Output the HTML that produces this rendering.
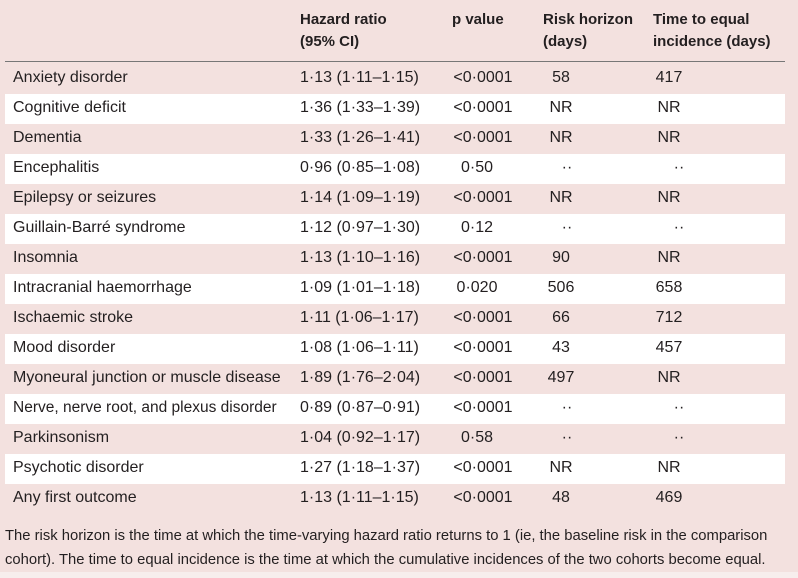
<!DOCTYPE html>
<html><head><meta charset="utf-8"><style>
body{margin:0;width:798px;height:578px;background:#f3e1df;font-family:"Liberation Sans",sans-serif;color:#231f20;position:relative;overflow:hidden}
.h{position:absolute;font-weight:bold;font-size:15px;line-height:22px}
.line{position:absolute;left:5px;width:780px;top:61px;height:1px;background:#777}
.row{position:absolute;left:5px;width:780px;height:30px;font-size:16px}
.row.w{background:#fff}
.row span{position:absolute;top:5px;white-space:nowrap}
.c{transform:translateX(-50%)}
.foot{position:absolute;left:5px;top:524px;font-size:14.8px;line-height:24px;width:792px;white-space:nowrap}
.bot{position:absolute;left:0;top:572px;width:798px;height:6px;background:#f7eeed}
</style></head><body>
<div class="h" style="left:300px;top:9px">Hazard ratio<br>(95% CI)</div>
<div class="h" style="left:452px;top:9px">p value</div>
<div class="h" style="left:543px;top:9px">Risk horizon<br>(days)</div>
<div class="h" style="left:653px;top:9px">Time to equal<br>incidence (days)</div>
<div class="line"></div>
<div class="row" style="top:64px"><span style="left:8px">Anxiety disorder</span><span style="left:295px">1·13 (1·11–1·15)</span><span class="c" style="left:478px">&lt;0·0001</span><span class="c" style="left:556px">58</span><span class="c" style="left:664px">417</span></div>
<div class="row w" style="top:94px"><span style="left:8px">Cognitive deficit</span><span style="left:295px">1·36 (1·33–1·39)</span><span class="c" style="left:478px">&lt;0·0001</span><span class="c" style="left:556px">NR</span><span class="c" style="left:664px">NR</span></div>
<div class="row" style="top:124px"><span style="left:8px">Dementia</span><span style="left:295px">1·33 (1·26–1·41)</span><span class="c" style="left:478px">&lt;0·0001</span><span class="c" style="left:556px">NR</span><span class="c" style="left:664px">NR</span></div>
<div class="row w" style="top:154px"><span style="left:8px">Encephalitis</span><span style="left:295px">0·96 (0·85–1·08)</span><span class="c" style="left:472px">0·50</span><span class="c" style="left:562px">··</span><span class="c" style="left:674px">··</span></div>
<div class="row" style="top:184px"><span style="left:8px">Epilepsy or seizures</span><span style="left:295px">1·14 (1·09–1·19)</span><span class="c" style="left:478px">&lt;0·0001</span><span class="c" style="left:556px">NR</span><span class="c" style="left:664px">NR</span></div>
<div class="row w" style="top:214px"><span style="left:8px">Guillain-Barré syndrome</span><span style="left:295px">1·12 (0·97–1·30)</span><span class="c" style="left:472px">0·12</span><span class="c" style="left:562px">··</span><span class="c" style="left:674px">··</span></div>
<div class="row" style="top:244px"><span style="left:8px">Insomnia</span><span style="left:295px">1·13 (1·10–1·16)</span><span class="c" style="left:478px">&lt;0·0001</span><span class="c" style="left:556px">90</span><span class="c" style="left:664px">NR</span></div>
<div class="row w" style="top:274px"><span style="left:8px">Intracranial haemorrhage</span><span style="left:295px">1·09 (1·01–1·18)</span><span class="c" style="left:472px">0·020</span><span class="c" style="left:556px">506</span><span class="c" style="left:664px">658</span></div>
<div class="row" style="top:304px"><span style="left:8px">Ischaemic stroke</span><span style="left:295px">1·11 (1·06–1·17)</span><span class="c" style="left:478px">&lt;0·0001</span><span class="c" style="left:556px">66</span><span class="c" style="left:664px">712</span></div>
<div class="row w" style="top:334px"><span style="left:8px">Mood disorder</span><span style="left:295px">1·08 (1·06–1·11)</span><span class="c" style="left:478px">&lt;0·0001</span><span class="c" style="left:556px">43</span><span class="c" style="left:664px">457</span></div>
<div class="row" style="top:364px"><span style="left:8px">Myoneural junction or muscle disease</span><span style="left:295px">1·89 (1·76–2·04)</span><span class="c" style="left:478px">&lt;0·0001</span><span class="c" style="left:556px">497</span><span class="c" style="left:664px">NR</span></div>
<div class="row w" style="top:394px"><span style="left:8px;font-size:15.5px">Nerve, nerve root, and plexus disorder</span><span style="left:295px">0·89 (0·87–0·91)</span><span class="c" style="left:478px">&lt;0·0001</span><span class="c" style="left:562px">··</span><span class="c" style="left:674px">··</span></div>
<div class="row" style="top:424px"><span style="left:8px">Parkinsonism</span><span style="left:295px">1·04 (0·92–1·17)</span><span class="c" style="left:472px">0·58</span><span class="c" style="left:562px">··</span><span class="c" style="left:674px">··</span></div>
<div class="row w" style="top:454px"><span style="left:8px">Psychotic disorder</span><span style="left:295px">1·27 (1·18–1·37)</span><span class="c" style="left:478px">&lt;0·0001</span><span class="c" style="left:556px">NR</span><span class="c" style="left:664px">NR</span></div>
<div class="row" style="top:484px"><span style="left:8px">Any first outcome</span><span style="left:295px">1·13 (1·11–1·15)</span><span class="c" style="left:478px">&lt;0·0001</span><span class="c" style="left:556px">48</span><span class="c" style="left:664px">469</span></div>
<div class="foot">The risk horizon is the time at which the time-varying hazard ratio returns to 1 (ie, the baseline risk in the comparison<br>cohort). The time to equal incidence is the time at which the cumulative incidences of the two cohorts become equal.</div>
<div class="bot"></div>
</body></html>
